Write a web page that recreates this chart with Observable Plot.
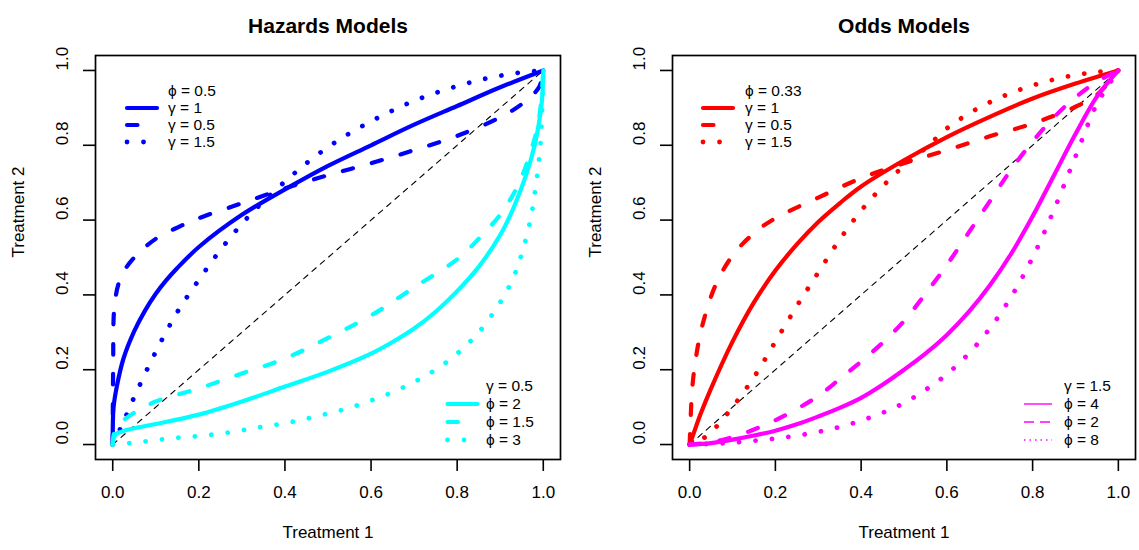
<!DOCTYPE html>
<html><head><meta charset="utf-8">
<script src="https://cdn.jsdelivr.net/npm/d3@7"></script>
<script src="https://cdn.jsdelivr.net/npm/@observablehq/plot@0.6"></script>
<style>
body{margin:0;background:#fff;}
#wrap{position:relative;width:1139px;height:550px;overflow:hidden;background:#fff;}
#wrap svg{position:absolute;top:0;}
#wrap svg g[aria-label^="x-axis"] path, #wrap svg g[aria-label^="y-axis"] path,
#wrap svg g[aria-label^="x-axis"] line, #wrap svg g[aria-label^="y-axis"] line{stroke-width:1.6px;}
</style></head><body><div id="wrap"></div>
<script>
// ---------- tick values ----------
const xTicks = [0, 0.2, 0.4, 0.6, 0.8, 1.0];
const yTicks = [0, 0.2, 0.4, 0.6, 0.8, 1.0];
const tickLabels = ["0.0", "0.2", "0.4", "0.6", "0.8", "1.0"];

// ---------- diagonal reference ----------
const diagX = [0, 1];
const diagY = [0, 1];

// ---------- Hazards models ----------
// phi = 0.5, gamma = 1 (blue solid)
const hazBlueSolidX = [0, 0.002, 0.01, 0.025, 0.05, 0.075, 0.1, 0.125, 0.15, 0.2, 0.3, 0.4, 0.5, 0.6, 0.7, 0.8, 0.9, 1];
const hazBlueSolidY = [0, 0.1, 0.158, 0.23, 0.303, 0.358, 0.403, 0.44, 0.472, 0.528, 0.614, 0.682, 0.745, 0.8, 0.855, 0.905, 0.955, 1];
// phi = 0.5, gamma = 0.5 (blue dashed)
const hazBlueDashX = [0, 0.001, 0.005, 0.02, 0.05, 0.1, 0.15, 0.2, 0.3, 0.4, 0.5, 0.6, 0.7, 0.8, 0.9, 0.95, 0.99, 1];
const hazBlueDashY = [0, 0.2, 0.38, 0.45, 0.5, 0.55, 0.58, 0.605, 0.645, 0.685, 0.72, 0.752, 0.787, 0.825, 0.875, 0.91, 0.955, 1];
// phi = 0.5, gamma = 1.5 (blue dotted)
const hazBlueDotX = [0, 0.02, 0.05, 0.1, 0.15, 0.2, 0.25, 0.3, 0.35, 0.4, 0.45, 0.5, 0.55, 0.6, 0.65, 0.7, 0.75, 0.8, 0.85, 0.9, 0.95, 1];
const hazBlueDotY = [0, 0.048, 0.127, 0.248, 0.354, 0.44, 0.52, 0.59, 0.65, 0.703, 0.752, 0.795, 0.832, 0.864, 0.893, 0.919, 0.94, 0.958, 0.974, 0.986, 0.995, 1];
// gamma = 0.5, phi = 2 (cyan solid)
const hazCyanSolidX = [0, 0.003, 0.01, 0.03, 0.06, 0.1, 0.2, 0.3, 0.4, 0.5, 0.6, 0.65, 0.7, 0.75, 0.8, 0.85, 0.9, 0.93, 0.96, 0.98, 0.99, 0.997, 1];
const hazCyanSolidY = [0, 0.02, 0.03, 0.038, 0.046, 0.055, 0.08, 0.115, 0.155, 0.195, 0.243, 0.274, 0.31, 0.355, 0.41, 0.475, 0.56, 0.63, 0.72, 0.8, 0.86, 0.92, 1];
// gamma = 0.5, phi = 1.5 (cyan dashed)
const hazCyanDashX = [0, 0.005, 0.02, 0.05, 0.1, 0.2, 0.3, 0.4, 0.5, 0.6, 0.7, 0.8, 0.85, 0.9, 0.94, 0.97, 0.99, 1];
const hazCyanDashY = [0, 0.04, 0.06, 0.085, 0.115, 0.15, 0.19, 0.23, 0.285, 0.345, 0.42, 0.495, 0.55, 0.615, 0.69, 0.78, 0.87, 1];
// gamma = 0.5, phi = 3 (cyan dotted)
const hazCyanDotX = [0, 0.05, 0.1, 0.15, 0.2, 0.25, 0.3, 0.35, 0.4, 0.45, 0.5, 0.55, 0.6, 0.65, 0.7, 0.75, 0.8, 0.85, 0.9, 0.93, 0.95, 0.97, 0.98, 0.99, 0.995, 1];
const hazCyanDotY = [0, 0.005, 0.012, 0.018, 0.023, 0.029, 0.038, 0.048, 0.057, 0.069, 0.083, 0.098, 0.118, 0.14, 0.167, 0.2, 0.243, 0.3, 0.38, 0.445, 0.51, 0.6, 0.67, 0.76, 0.83, 1];

// ---------- Odds models ----------
// phi = 0.33, gamma = 1 (red solid)
const oddRedSolidX = [0, 0.01, 0.025, 0.05, 0.1, 0.15, 0.2, 0.25, 0.3, 0.35, 0.4, 0.5, 0.6, 0.7, 0.8, 0.9, 1];
const oddRedSolidY = [0, 0.032, 0.08, 0.15, 0.275, 0.38, 0.465, 0.535, 0.595, 0.645, 0.69, 0.76, 0.822, 0.876, 0.925, 0.965, 1];
// phi = 0.33, gamma = 0.5 (red dashed)
const oddRedDashX = [0, 0.002, 0.006, 0.015, 0.03, 0.06, 0.1, 0.15, 0.2, 0.3, 0.4, 0.5, 0.6, 0.7, 0.8, 0.9, 0.95, 1];
const oddRedDashY = [0, 0.06, 0.15, 0.235, 0.32, 0.425, 0.505, 0.565, 0.605, 0.66, 0.712, 0.752, 0.787, 0.824, 0.858, 0.903, 0.935, 1];
// phi = 0.33, gamma = 1.5 (red dotted)
const oddRedDotX = [0, 0.03, 0.06, 0.1, 0.15, 0.2, 0.25, 0.3, 0.35, 0.4, 0.45, 0.5, 0.55, 0.6, 0.65, 0.7, 0.75, 0.8, 0.85, 0.9, 0.95, 1];
const oddRedDotY = [0, 0.015, 0.045, 0.1, 0.18, 0.275, 0.37, 0.46, 0.548, 0.625, 0.69, 0.745, 0.792, 0.845, 0.884, 0.915, 0.94, 0.96, 0.976, 0.988, 0.996, 1];
// gamma = 1.5, phi = 4 (magenta solid)
const oddMagSolidX = [0, 0.05, 0.1, 0.15, 0.2, 0.25, 0.3, 0.35, 0.4, 0.45, 0.5, 0.55, 0.6, 0.65, 0.7, 0.75, 0.8, 0.85, 0.9, 0.95, 1];
const oddMagSolidY = [0, 0.004, 0.013, 0.024, 0.037, 0.054, 0.075, 0.098, 0.125, 0.16, 0.2, 0.243, 0.293, 0.353, 0.425, 0.51, 0.61, 0.72, 0.83, 0.93, 1];
// gamma = 1.5, phi = 2 (magenta dashed)
const oddMagDashX = [0, 0.05, 0.1, 0.15, 0.2, 0.25, 0.3, 0.35, 0.4, 0.45, 0.5, 0.55, 0.6, 0.65, 0.7, 0.75, 0.8, 0.85, 0.9, 0.95, 1];
const oddMagDashY = [0, 0.006, 0.02, 0.04, 0.065, 0.095, 0.13, 0.175, 0.222, 0.272, 0.33, 0.403, 0.48, 0.565, 0.65, 0.735, 0.81, 0.875, 0.928, 0.97, 1];
// gamma = 1.5, phi = 8 (magenta dotted)
const oddMagDotX = [0, 0.05, 0.1, 0.15, 0.2, 0.25, 0.3, 0.35, 0.4, 0.45, 0.5, 0.55, 0.6, 0.65, 0.7, 0.75, 0.8, 0.85, 0.9, 0.95, 1];
const oddMagDotY = [0, 0.002, 0.005, 0.01, 0.016, 0.024, 0.034, 0.047, 0.064, 0.085, 0.111, 0.146, 0.188, 0.242, 0.31, 0.395, 0.5, 0.628, 0.77, 0.91, 1];

// ---------- text ----------
const panelTitles = ["Hazards Models", "Odds Models"];
const xLabel = "Treatment 1";
const yLabel = "Treatment 2";
const hazTopHeader = "\u03D5 = 0.5";
const hazTopLabels = ["\u03B3 = 1", "\u03B3 = 0.5", "\u03B3 = 1.5"];
const hazBotHeader = "\u03B3 = 0.5";
const hazBotLabels = ["\u03D5 = 2", "\u03D5 = 1.5", "\u03D5 = 3"];
const oddTopHeader = "\u03D5 = 0.33";
const oddTopLabels = ["\u03B3 = 1", "\u03B3 = 0.5", "\u03B3 = 1.5"];
const oddBotHeader = "\u03B3 = 1.5";
const oddBotLabels = ["\u03D5 = 4", "\u03D5 = 2", "\u03D5 = 8"];
const lineTypes = ["solid", "dashed", "dotted"];

// ---------- styling ----------
const FONT = '"Liberation Sans", Arial, Helvetica, sans-serif';
const BLUE = "#0000FF", CYAN = "#00FFFF", RED = "#FF0000", MAGENTA = "#FF00FF";
const THICK = {
  solid: {strokeWidth: 4.2, strokeLinecap: "round"},
  dashed: {strokeWidth: 4.2, strokeLinecap: "round", strokeDasharray: "10.5,19.5"},
  dotted: {strokeWidth: 4.8, strokeLinecap: "round", strokeDasharray: "0.01,16.5"}
};
const THIN = {
  solid: {strokeWidth: 1.4, strokeLinecap: "butt"},
  dashed: {strokeWidth: 1.4, strokeLinecap: "butt", strokeDasharray: "10,6"},
  dotted: {strokeWidth: 1.5, strokeLinecap: "butt", strokeDasharray: "1.5,4"}
};

const zip = (xs, ys) => xs.map((x, i) => ({x, y: ys[i]}));

const H = 550, ML = 95, MT = 55, MB = 91;

function curve(xs, ys, color, type) {
  return Plot.line(zip(xs, ys), {x: "x", y: "y", stroke: color, curve: "catmull-rom", ...THICK[type]});
}

function legend(svg, o) {
  const g = d3.select(svg).append("g").attr("font-family", FONT).attr("font-size", 15.5)
    .attr("text-anchor", "start").attr("fill", "black");
  g.append("text").attr("x", o.tx).attr("y", o.rows[0]).attr("dy", "0.35em").text(o.header);
  o.labels.forEach((lab, i) => {
    const st = o.styles[lineTypes[i]];
    const y = o.rows[i + 1];
    const ln = g.append("line").attr("x1", o.x0).attr("x2", o.x1).attr("y1", y).attr("y2", y)
      .attr("stroke", o.color).attr("stroke-width", st.strokeWidth).attr("stroke-linecap", st.strokeLinecap);
    if (st.strokeDasharray) ln.attr("stroke-dasharray", st.strokeDasharray);
    g.append("text").attr("x", o.tx).attr("y", y).attr("dy", "0.35em").text(lab);
  });
}

function panel(title, curves, width, mr) {
  return Plot.plot({
    width, height: H,
    marginLeft: ML, marginRight: mr, marginTop: MT, marginBottom: MB,
    style: {fontFamily: FONT, fontSize: "17px", background: "white", color: "black", overflow: "visible"},
    x: {domain: [-0.04, 1.04], ticks: xTicks, tickSize: 12, tickPadding: 14, tickFormat: (d) => tickLabels[xTicks.indexOf(d)], label: null},
    y: {domain: [-0.04, 1.04], ticks: yTicks, tickSize: 12, tickFormat: () => "", label: null},
    marks: [
      Plot.line(zip(diagX, diagY), {x: "x", y: "y", stroke: "black", strokeWidth: 1.1, strokeDasharray: "5.5,5.5"}),
      ...curves,
      Plot.frame({stroke: "black", strokeWidth: 1.7}),
      Plot.text(yTicks, {y: d => d, text: (d, i) => tickLabels[i], frameAnchor: "left", dx: -33, rotate: -90, fontSize: 17}),
      Plot.text([title], {text: d => d, frameAnchor: "top", dy: -37, fontSize: 21, fontWeight: "bold"}),
      Plot.text([xLabel], {text: d => d, frameAnchor: "bottom", dy: 78, fontSize: 17}),
      Plot.text([yLabel], {text: d => d, frameAnchor: "left", dx: -77, rotate: -90, fontSize: 17})
    ]
  });
}

const wrap = document.getElementById("wrap");

// left panel
const W1 = 570, MR1 = 10;
const left = panel(panelTitles[0], [
  curve(hazBlueSolidX, hazBlueSolidY, BLUE, "solid"),
  curve(hazBlueDashX, hazBlueDashY, BLUE, "dashed"),
  curve(hazBlueDotX, hazBlueDotY, BLUE, "dotted"),
  curve(hazCyanSolidX, hazCyanSolidY, CYAN, "solid"),
  curve(hazCyanDashX, hazCyanDashY, CYAN, "dashed"),
  curve(hazCyanDotX, hazCyanDotY, CYAN, "dotted")
], W1, MR1);
left.style.left = "0px";
wrap.appendChild(left);
{
  const fl = ML, ft = MT, fr = W1 - MR1, fb = H - MB;
  legend(left, {x0: fl + 32, x1: fl + 62, tx: fl + 73, rows: [ft + 35.5, ft + 53, ft + 70, ft + 87],
    header: hazTopHeader, labels: hazTopLabels, color: BLUE, styles: THICK});
  legend(left, {x0: fr - 112.5, x1: fr - 82.5, tx: fr - 74, rows: [fb - 73, fb - 55, fb - 37, fb - 19],
    header: hazBotHeader, labels: hazBotLabels, color: CYAN, styles: THICK});
}

// right panel
const OFF2 = 577, W2 = 1139 - OFF2, MR2 = 4;
const right = panel(panelTitles[1], [
  curve(oddRedSolidX, oddRedSolidY, RED, "solid"),
  curve(oddRedDashX, oddRedDashY, RED, "dashed"),
  curve(oddRedDotX, oddRedDotY, RED, "dotted"),
  curve(oddMagSolidX, oddMagSolidY, MAGENTA, "solid"),
  curve(oddMagDashX, oddMagDashY, MAGENTA, "dashed"),
  curve(oddMagDotX, oddMagDotY, MAGENTA, "dotted")
], W2, MR2);
right.style.left = OFF2 + "px";
wrap.appendChild(right);
{
  const fl = ML, ft = MT, fr = W2 - MR2, fb = H - MB;
  legend(right, {x0: fl + 31, x1: fl + 61, tx: fl + 73, rows: [ft + 35.5, ft + 53, ft + 70, ft + 87],
    header: oddTopHeader, labels: oddTopLabels, color: RED, styles: THICK});
  legend(right, {x0: fr - 111, x1: fr - 83, tx: fr - 71, rows: [fb - 73, fb - 55, fb - 37, fb - 19],
    header: oddBotHeader, labels: oddBotLabels, color: MAGENTA, styles: THIN});
}
</script></body></html>
